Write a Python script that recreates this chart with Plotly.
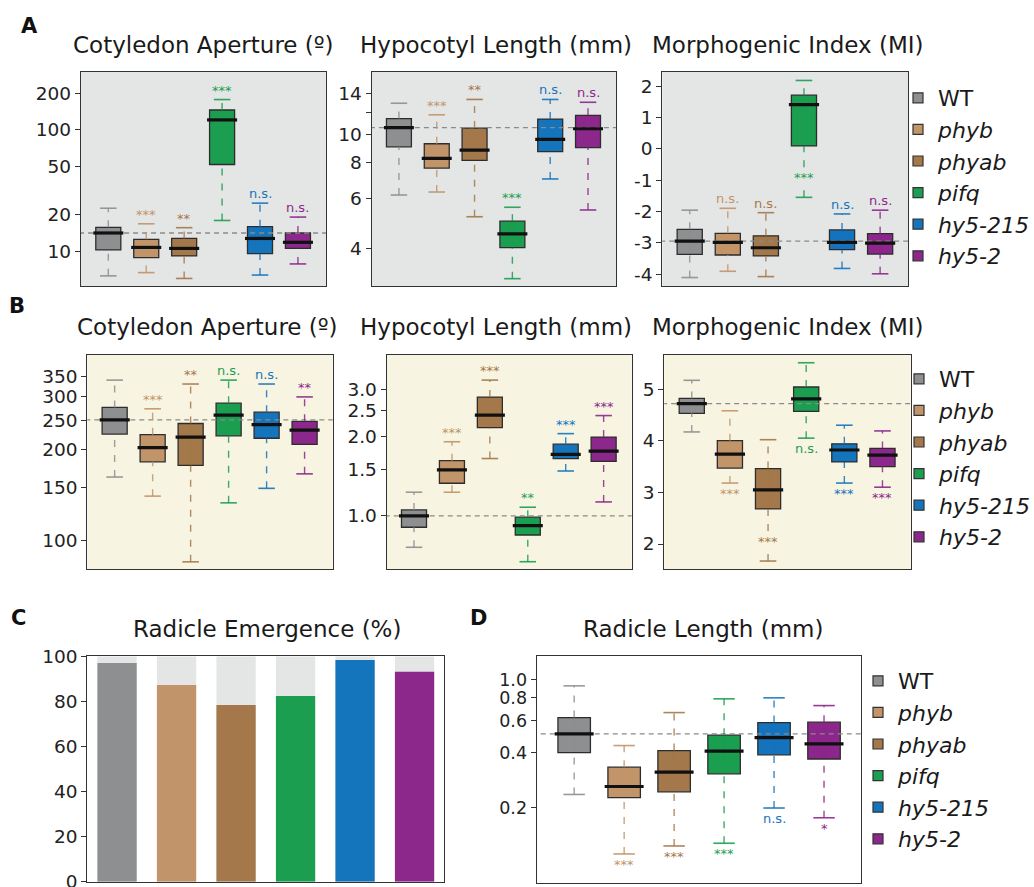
import numpy as np
import plotly.graph_objects as go

W, H = 1034, 887
FONT = "DejaVu Sans"

genotypes = ["WT", "phyb", "phyab", "pifq", "hy5-215", "hy5-2"]
legend_labels = ["WT", "<i>phyb</i>", "<i>phyab</i>", "<i>pifq</i>", "<i>hy5-215</i>", "<i>hy5-2</i>"]
colors = ["#8e8f91", "#c29469", "#a4784b", "#1b9e50", "#1474bc", "#8c278b"]

# ---------- Panel A (grey background) ----------
a_cot_low = [6.3, 6.7, 6.0, 18.0, 6.4, 7.9]
a_cot_q1 = [10.3, 8.9, 9.2, 52.0, 9.6, 10.6]
a_cot_med = [14.2, 10.8, 10.6, 121.0, 12.8, 11.9]
a_cot_q3 = [15.8, 12.6, 12.8, 146.0, 16.0, 14.2]
a_cot_high = [22.7, 16.9, 15.7, 178.0, 25.0, 19.2]
a_cot_sig = ["", "***", "**", "***", "n.s.", "n.s."]
a_cot_pos = ["above"] * 6

a_hyp_low = [6.15, 6.3, 5.16, 3.13, 7.0, 5.45]
a_hyp_q1 = [9.07, 7.64, 8.13, 4.02, 8.73, 9.02]
a_hyp_med = [10.6, 8.26, 8.83, 4.49, 9.63, 10.5]
a_hyp_q3 = [11.4, 9.3, 10.56, 4.98, 11.35, 11.7]
a_hyp_high = [12.9, 11.75, 13.3, 5.57, 13.3, 13.0]
a_hyp_sig = ["", "***", "**", "***", "n.s.", "n.s."]
a_hyp_pos = ["above"] * 6

a_mi_low = [-4.11, -3.91, -4.08, -1.55, -3.82, -3.99]
a_mi_q1 = [-3.37, -3.39, -3.42, 0.09, -3.22, -3.36]
a_mi_med = [-2.95, -2.99, -3.16, 1.41, -2.99, -3.01]
a_mi_q3 = [-2.57, -2.70, -2.78, 1.71, -2.59, -2.71]
a_mi_high = [-1.96, -1.90, -2.04, 2.18, -2.08, -1.96]
a_mi_sig = ["", "n.s.", "n.s.", "***", "n.s.", "n.s."]
a_mi_pos = ["above", "above", "above", "mid", "above", "above"]

# ---------- Panel B (cream background) ----------
b_cot_low = [162, 140, 84.7, 133, 148.6, 166]
b_cot_q1 = [225, 182, 177, 222, 218, 208]
b_cot_med = [251, 203, 220, 260, 242, 232]
b_cot_q3 = [276, 224, 244, 285, 266, 248]
b_cot_high = [340, 273, 330, 340, 330, 299]
b_cot_sig = ["", "***", "**", "n.s.", "n.s.", "**"]
b_cot_pos = ["above"] * 6

b_hyp_low = [0.761, 1.23, 1.65, 0.671, 1.48, 1.13]
b_hyp_q1 = [0.906, 1.33, 2.16, 0.847, 1.65, 1.61]
b_hyp_med = [1.0, 1.494, 2.41, 0.919, 1.71, 1.76]
b_hyp_q3 = [1.054, 1.62, 2.82, 0.989, 1.87, 1.99]
b_hyp_high = [1.23, 1.91, 3.27, 1.079, 2.05, 2.40]
b_hyp_sig = ["", "***", "***", "**", "***", "***"]
b_hyp_pos = ["above"] * 6

b_mi_low = [4.17, 3.18, 1.67, 4.05, 3.18, 3.10]
b_mi_q1 = [4.53, 3.47, 2.68, 4.57, 3.59, 3.50]
b_mi_med = [4.72, 3.74, 3.05, 4.81, 3.82, 3.72]
b_mi_q3 = [4.82, 4.00, 3.46, 5.04, 3.94, 3.85]
b_mi_high = [5.17, 4.58, 4.02, 5.51, 4.30, 4.19]
b_mi_sig = ["", "***", "***", "n.s.", "***", "***"]
b_mi_pos = ["below", "below", "mid", "below", "below", "below"]

# ---------- Panel C ----------
c_emergence = [97.2, 87.4, 78.5, 82.5, 98.5, 93.3]
c_total = [100, 100, 100, 100, 100, 100]

# ---------- Panel D ----------
d_low = [0.236, 0.1116, 0.1234, 0.1277, 0.199, 0.176]
d_q1 = [0.40, 0.227, 0.244, 0.306, 0.389, 0.369]
d_med = [0.506, 0.261, 0.313, 0.407, 0.483, 0.446]
d_q3 = [0.622, 0.333, 0.410, 0.498, 0.584, 0.587]
d_high = [0.927, 0.437, 0.662, 0.787, 0.797, 0.723]
d_sig = ["", "***", "***", "***", "n.s.", "*"]
d_pos = ["below"] * 6

BG_A = "#e4e5e5"
BG_B = "#f8f4e2"


def px_x(v):
    return v / W


def px_y(v):
    return 1 - v / H


fig = go.Figure()
annotations = []
shapes = []
layout_axes = {}


def add_box_panel(k, xdom, ydom, low, q1, med, q3, high, sig, pos, logy, yrange,
                  tickvals, ticktext, bg, xr=(-0.72, 5.74), bw=0.66, tfs=18.5):
    xa = "x" if k == 1 else f"x{k}"
    ya = "y" if k == 1 else f"y{k}"
    tr = (lambda v: np.log10(v)) if logy else (lambda v: v)
    n = len(med)
    xs = list(range(n))
    # reference line at WT median
    fig.add_trace(go.Scatter(x=[xr[0] - 1, xr[1] + 1], y=[med[0], med[0]], mode="lines",
                             line=dict(color="#8a8a8a", width=1.3, dash="5px,4px"),
                             hoverinfo="skip", showlegend=False, xaxis=xa, yaxis=ya))
    cap = bw * 0.33
    for i in xs:
        fig.add_trace(go.Scatter(x=[i, i, None, i, i], y=[q3[i], high[i], None, low[i], q1[i]],
                                 mode="lines", line=dict(color=colors[i], width=1.4, dash="7px,8px"),
                                 opacity=0.85, hoverinfo="skip", showlegend=False, xaxis=xa, yaxis=ya))
        fig.add_trace(go.Scatter(x=[i - cap, i + cap, None, i - cap, i + cap],
                                 y=[high[i], high[i], None, low[i], low[i]],
                                 mode="lines", line=dict(color=colors[i], width=1.6),
                                 opacity=0.9, hoverinfo="skip", showlegend=False, xaxis=xa, yaxis=ya))
        fig.add_trace(go.Box(x=[i], q1=[q1[i]], median=[med[i]], q3=[q3[i]],
                             lowerfence=[q1[i]], upperfence=[q3[i]], width=bw,
                             fillcolor=colors[i], line=dict(color="#2d2d2d", width=1.3),
                             boxpoints=False, hoverinfo="skip", showlegend=False,
                             xaxis=xa, yaxis=ya))
    mx, my = [], []
    for i in xs:
        mx += [i - bw * 0.6, i + bw * 0.6, None]
        my += [med[i], med[i], None]
    fig.add_trace(go.Scatter(x=mx, y=my, mode="lines", line=dict(color="#111111", width=3.2),
                             hoverinfo="skip", showlegend=False, xaxis=xa, yaxis=ya))
    # significance labels
    for i in xs:
        if not sig[i]:
            continue
        fs = 13
        if pos[i] == "above":
            annotations.append(dict(x=i, y=tr(high[i]), xref=xa, yref=ya, text=sig[i],
                                    showarrow=False, yanchor="bottom", yshift=0,
                                    font=dict(family=FONT, size=fs, color=colors[i])))
        elif pos[i] == "below":
            annotations.append(dict(x=i, y=tr(low[i]), xref=xa, yref=ya, text=sig[i],
                                    showarrow=False, yanchor="top", yshift=-1,
                                    font=dict(family=FONT, size=fs, color=colors[i])))
        else:
            ym = tr(q1[i]) - 0.62 * (tr(q1[i]) - tr(low[i]))
            annotations.append(dict(x=i, y=ym, xref=xa, yref=ya, text=sig[i],
                                    showarrow=False, yanchor="middle", bgcolor=bg,
                                    font=dict(family=FONT, size=fs, color=colors[i])))
    if bg:
        shapes.append(dict(type="rect", xref=f"{xa} domain", yref=f"{ya} domain",
                           x0=0, x1=1, y0=0, y1=1, fillcolor=bg, line=dict(width=0), layer="below"))
    xkey = "xaxis" if k == 1 else f"xaxis{k}"
    ykey = "yaxis" if k == 1 else f"yaxis{k}"
    layout_axes[xkey] = dict(domain=[px_x(xdom[0]), px_x(xdom[1])], anchor=ya, range=list(xr),
                             showticklabels=False, ticks="", showgrid=False, zeroline=False,
                             showline=True, mirror=True, linecolor="#333333", linewidth=1.3)
    layout_axes[ykey] = dict(domain=[px_y(ydom[1]), px_y(ydom[0])], anchor=xa,
                             type="log" if logy else "linear",
                             range=[tr(yrange[0]), tr(yrange[1])],
                             tickvals=tickvals, ticktext=ticktext, ticks="outside", ticklen=5,
                             tickcolor="#333333", tickfont=dict(family=FONT, size=tfs, color="#222222"),
                             showgrid=False, zeroline=False, showline=True, mirror=True,
                             linecolor="#333333", linewidth=1.3)


add_box_panel(1, (81, 326), (72, 286), a_cot_low, a_cot_q1, a_cot_med, a_cot_q3, a_cot_high,
              a_cot_sig, a_cot_pos, True, (5.2, 300),
              [10, 20, 50, 100, 200], ["10", "20", "50", "100", "200"], BG_A)
add_box_panel(2, (371.7, 616), (72, 286), a_hyp_low, a_hyp_q1, a_hyp_med, a_hyp_q3, a_hyp_high,
              a_hyp_sig, a_hyp_pos, True, (2.95, 16.6),
              [4, 6, 8, 10, 12, 14], ["4", "6", "8", "10", "", "14"], BG_A)
add_box_panel(3, (662.3, 908.3), (72, 286), a_mi_low, a_mi_q1, a_mi_med, a_mi_q3, a_mi_high,
              a_mi_sig, a_mi_pos, False, (-4.38, 2.45),
              [-4, -3, -2, -1, 0, 1, 2], ["-4", "-3", "-2", "-1", "0", "1", "2"], BG_A)
add_box_panel(4, (87.3, 332.7), (355, 569.3), b_cot_low, b_cot_q1, b_cot_med, b_cot_q3, b_cot_high,
              b_cot_sig, b_cot_pos, True, (80, 412),
              [100, 150, 200, 250, 300, 350], ["100", "150", "200", "250", "300", "350"], BG_B)
add_box_panel(5, (386.7, 631.7), (355, 569.3), b_hyp_low, b_hyp_q1, b_hyp_med, b_hyp_q3, b_hyp_high,
              b_hyp_sig, b_hyp_pos, True, (0.628, 4.07),
              [1.0, 1.5, 2.0, 2.5, 3.0], ["1.0", "1.5", "2.0", "2.5", "3.0"], BG_B)
add_box_panel(6, (664.3, 910.7), (355, 569.3), b_mi_low, b_mi_q1, b_mi_med, b_mi_q3, b_mi_high,
              b_mi_sig, b_mi_pos, False, (1.51, 5.66),
              [2, 3, 4, 5], ["2", "3", "4", "5"], BG_B)
add_box_panel(8, (536.7, 861), (656, 883.3), d_low, d_q1, d_med, d_q3, d_high,
              d_sig, d_pos, True, (0.0771, 1.35),
              [0.2, 0.4, 0.6, 0.8, 1.0], ["0.2", "0.4", "0.6", "0.8", "1.0"], None,
              xr=(-0.75, 5.74), bw=0.65, tfs=17.5)

# Panel C bars
fig.add_trace(go.Bar(x=list(range(6)), y=c_total, width=0.66, marker=dict(color="#e4e5e5", line=dict(width=0)),
                     hoverinfo="skip", showlegend=False, xaxis="x7", yaxis="y7"))
fig.add_trace(go.Bar(x=list(range(6)), y=c_emergence, width=0.66, marker=dict(color=colors, line=dict(width=0)),
                     hoverinfo="skip", showlegend=False, xaxis="x7", yaxis="y7"))
layout_axes["xaxis7"] = dict(domain=[px_x(87.3), px_x(444.3)], anchor="y7", range=[-0.5, 5.5],
                             showticklabels=False, ticks="", showgrid=False, zeroline=False,
                             showline=True, mirror=True, linecolor="#333333", linewidth=1.3)
layout_axes["yaxis7"] = dict(domain=[px_y(881.7), px_y(655.7)], anchor="x7", range=[0, 100.4],
                             tickvals=[0, 20, 40, 60, 80, 100], ticks="outside", ticklen=5,
                             tickcolor="#333333", tickfont=dict(family=FONT, size=18.5, color="#222222"),
                             ticklabeloverflow="allow",
                             showgrid=False, zeroline=False, showline=True, mirror=True,
                             linecolor="#333333", linewidth=1.3)

# Legends (dummy traces)
legend_specs = [("legend", 1), ("legend2", 4), ("legend3", 8)]
for lg, k in legend_specs:
    xa = "x" if k == 1 else f"x{k}"
    ya = "y" if k == 1 else f"y{k}"
    for i, g in enumerate(genotypes):
        fig.add_trace(go.Scatter(x=[None], y=[None], mode="markers", name=legend_labels[i],
                                 marker=dict(symbol="square", size=10, color=colors[i],
                                             line=dict(color="#333333", width=1.2)),
                                 legend=lg, showlegend=True, xaxis=xa, yaxis=ya))


def legend_cfg(xc, ytop):
    return dict(x=px_x(xc - 20), xanchor="left", y=px_y(ytop), yanchor="top",
                font=dict(family=FONT, size=22, color="#1a1a1a"), bgcolor="rgba(0,0,0,0)",
                tracegroupgap=0, itemclick=False, itemdoubleclick=False)


# titles and panel letters
titles = [("Cotyledon Aperture (º)", 203.5, 45), ("Hypocotyl Length (mm)", 495.7, 45),
          ("Morphogenic Index (MI)", 788, 45),
          ("Cotyledon Aperture (º)", 207, 327), ("Hypocotyl Length (mm)", 495.7, 327),
          ("Morphogenic Index (MI)", 788, 327),
          ("Radicle Emergence (%)", 267, 629), ("Radicle Length (mm)", 702.5, 629)]
for t, xc, yc in titles:
    annotations.append(dict(x=px_x(xc), y=px_y(yc), xref="paper", yref="paper", text=t,
                            showarrow=False, xanchor="center", yanchor="middle",
                            font=dict(family=FONT, size=23, color="#1a1a1a")))
letters = [("A", 29, 26), ("B", 17, 306), ("C", 18, 618), ("D", 478, 618)]
for t, xc, yc in letters:
    annotations.append(dict(x=px_x(xc), y=px_y(yc), xref="paper", yref="paper", text=f"<b>{t}</b>",
                            showarrow=False, xanchor="center", yanchor="middle",
                            font=dict(family=FONT, size=21, color="#111111")))

fig.update_layout(
    width=W, height=H, autosize=False,
    margin=dict(l=0, r=0, t=0, b=0, pad=0, autoexpand=False),
    paper_bgcolor="white", plot_bgcolor="rgba(0,0,0,0)",
    barmode="overlay", boxmode="overlay",
    font=dict(family=FONT),
    legend=legend_cfg(918, 77),
    legend2=legend_cfg(919, 358),
    legend3=legend_cfg(878, 660),
    annotations=annotations, shapes=shapes,
    **layout_axes,
)

page_fix = (
    "document.documentElement.style.margin='0px';"
    "document.documentElement.style.padding='0px';"
    "document.body.style.margin='0px';document.body.style.padding='0px';"
    "document.body.style.overflow='hidden';"
    "var gd=document.querySelector('.plotly-graph-div');"
    "gd.style.position='absolute';gd.style.top='0px';gd.style.left='0px';"
)

fig.write_html("out.html", config={"displayModeBar": False}, post_script=page_fix)
